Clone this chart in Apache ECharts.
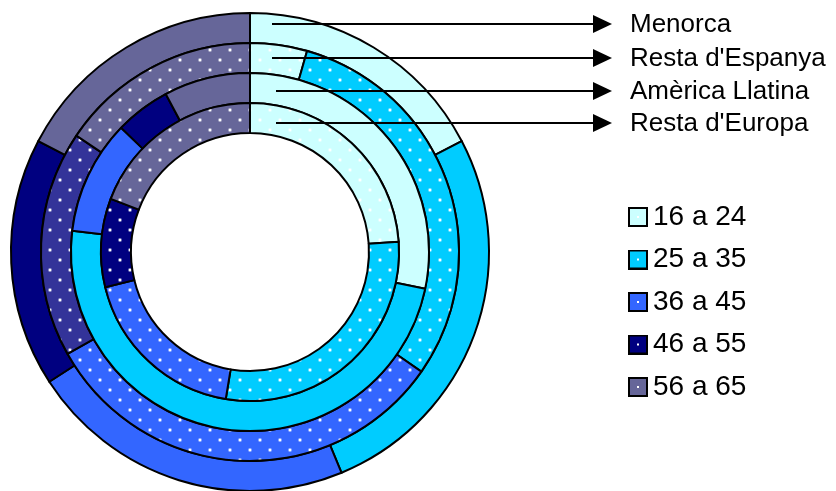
<!DOCTYPE html>
<html>
<head>
<meta charset="utf-8">
<script src="https://cdn.jsdelivr.net/npm/echarts@6/dist/echarts.min.js"></script>
<style>
  html, body { margin: 0; padding: 0; background: #fff; }
  #chart { width: 836px; height: 491px; }
</style>
</head>
<body>
<div id="chart"></div>
<script>
// ---- data ----
const ageGroups = ['16 a 24', '25 a 35', '36 a 45', '46 a 55', '56 a 65'];
const regions = ['Menorca', "Resta d'Espanya", 'Amèrica Llatina', "Resta d'Europa"];
const menorca = [17.3, 26.4, 22.1, 16.8, 17.3];
const restaEspanya = [4.4, 30.3, 32.2, 17.5, 15.6];
const americaLlatina = [28.3, 48.6, 10.3, 5.0, 7.8];
const restaEuropa = [23.9, 28.7, 18.6, 9.6, 19.2];
const ringValues = [menorca, restaEspanya, americaLlatina, restaEuropa];

// ---- styles ----
const baseColors = ['#CCFFFF', '#00CCFF', '#3366FF', '#000080', '#666699'];
const ringColors = [
  baseColors,
  ['#CCFFFF', '#00CCFF', '#3366FF', '#333399', '#666699'],
  baseColors,
  baseColors
];
const ringDotted = [false, true, false, true];
const ringRadii = [[209, 239], [179, 209], [149, 179], [119, 149]];
const CX = 250, CY = 252;

function dotPattern(color) {
  const c = document.createElement('canvas');
  c.width = 20; c.height = 20;
  const g = c.getContext('2d');
  g.fillStyle = color;
  g.fillRect(0, 0, 20, 20);
  const pts = [[10, 10], [0, 0], [20, 0], [0, 20], [20, 20]];
  pts.forEach(p => {
    g.fillStyle = 'rgba(255,255,255,0.45)';
    g.beginPath(); g.arc(p[0], p[1], 2.0, 0, Math.PI * 2); g.fill();
    g.fillStyle = '#ffffff';
    g.beginPath(); g.arc(p[0], p[1], 1.2, 0, Math.PI * 2); g.fill();
  });
  return { image: c, repeat: 'repeat' };
}

function legendIcon(color) {
  const c = document.createElement('canvas');
  c.width = 20; c.height = 20;
  const g = c.getContext('2d');
  g.fillStyle = '#000';
  g.fillRect(0, 0, 20, 20);
  g.fillStyle = color;
  g.fillRect(2, 2, 16, 16);
  g.fillStyle = '#fff';
  g.fillRect(9, 9, 2, 2);
  return 'image://' + c.toDataURL();
}

const series = ringValues.map((vals, r) => ({
  type: 'pie',
  name: regions[r],
  center: [CX, CY],
  radius: ringRadii[r],
  startAngle: 90,
  clockwise: true,
  silent: true,
  animation: false,
  label: { show: false },
  labelLine: { show: false },
  emphasis: { disabled: true },
  data: vals.map((v, i) => ({
    name: ageGroups[i],
    value: v,
    itemStyle: {
      color: ringDotted[r] ? dotPattern(ringColors[r][i]) : ringColors[r][i],
      borderColor: '#000',
      borderWidth: 2
    }
  }))
}));

// ---- annotation arrows ----
const arrowY = [24, 58, 91, 123];
const arrowStartX = [272, 272, 276, 276];
const arrowBaseX = 593, arrowTipX = 612;
const graphics = [];
regions.forEach((name, i) => {
  const y = arrowY[i];
  graphics.push({
    type: 'line', z: 100,
    shape: { x1: arrowStartX[i], y1: y, x2: arrowBaseX + 1, y2: y },
    style: { stroke: '#000', lineWidth: 2 }
  });
  graphics.push({
    type: 'polygon', z: 100,
    shape: { points: [[arrowBaseX, y - 9], [arrowTipX, y], [arrowBaseX, y + 9]] },
    style: { fill: '#000' }
  });
  graphics.push({
    type: 'text', z: 100,
    x: 630, y: y + 1,
    style: {
      text: name, fill: '#000',
      font: '26px "Liberation Sans", Arial, sans-serif',
      textVerticalAlign: 'middle', verticalAlign: 'middle'
    }
  });
});

const chart = echarts.init(document.getElementById('chart'), null, { renderer: 'canvas' });
chart.setOption({
  backgroundColor: '#fff',
  animation: false,
  legend: {
    orient: 'vertical',
    left: 623,
    top: 198,
    itemWidth: 20,
    itemHeight: 20,
    itemGap: 14.5,
    selectedMode: false,
    textStyle: {
      color: '#000',
      fontSize: 28,
      lineHeight: 28,
      fontFamily: '"Liberation Sans", Arial, sans-serif'
    },
    data: ageGroups.map((n, i) => ({ name: n, icon: legendIcon(baseColors[i]) }))
  },
  graphic: graphics,
  series: series
});
</script>
</body>
</html>
